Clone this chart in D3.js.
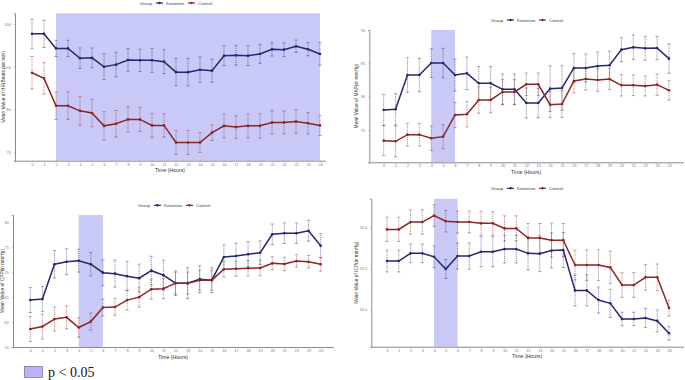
<!DOCTYPE html>
<html><head><meta charset="utf-8">
<script src="https://cdn.jsdelivr.net/npm/d3@7"></script>
<style>html,body{margin:0;padding:0;background:#fff;}svg{display:block;}</style>
</head><body>
<svg id="c" width="685" height="380"></svg>
<script>
const hours = d3.range(0, 25);
const groups = ["Ketamine", "Control"];

const hrKet    = [97.7,97.7,94.3,94.3,92.0,92.1,90.0,90.5,91.6,91.5,91.5,91.2,88.75,88.75,89.3,89.1,92.6,92.7,92.6,93.0,94.1,94.0,94.8,94.1,93.0];
const hrKetErr = [3.4,3.2,1.9,1.9,2.4,2.3,3.0,2.85,2.65,2.6,2.8,2.8,3.2,3.2,3.0,2.7,2.3,2.3,2.3,2.2,1.6,1.6,1.45,1.55,2.65];
const hrCtl    = [88.6,87.3,80.9,80.9,79.7,79.2,76.2,76.7,77.7,77.7,76.3,76.3,72.3,72.3,72.3,74.6,76.2,75.9,76.2,76.2,77.0,77.0,77.2,76.8,76.3];
const hrCtlErr = [3.8,3.7,3.2,3.2,3.4,3.2,3.3,3.1,2.9,2.8,2.8,2.7,2.8,2.8,2.3,1.8,2.8,2.65,2.8,2.85,2.7,2.65,2.7,2.5,2.35];
const hrTicks  = [70, 80, 90, 100];

const mapKet    = [78.0,78.1,83.25,83.25,85.05,85.05,83.25,83.5,82.0,82.0,81.1,81.1,79.05,79.05,81.2,81.3,84.3,84.3,84.6,84.7,87.05,87.4,87.25,87.3,85.7];
const mapKetErr = [2.3,2.35,2.6,2.5,2.15,2.2,2.4,2.45,2.5,2.5,2.3,2.3,2.25,2.2,3.4,3.35,2.15,2.1,2.1,2.1,1.8,1.85,1.8,1.75,2.2];
const mapCtl    = [73.4,73.3,74.3,74.3,73.75,74.0,77.25,77.35,79.5,79.5,80.7,80.7,81.85,81.85,78.8,78.9,82.35,82.65,82.5,82.65,81.7,81.7,81.6,81.8,80.95];
const mapCtlErr = [2.25,2.3,1.7,1.7,1.85,1.8,1.9,1.9,2.0,1.95,1.85,1.85,1.7,1.7,1.95,2.0,1.8,1.65,1.7,1.6,1.6,1.55,1.5,1.6,1.45];
const mapTicks  = [75, 80, 85, 90];

const cppKet    = [64.4,64.6,71.6,72.1,72.3,71.6,69.9,69.7,69.2,68.8,70.3,69.4,67.8,67.8,68.6,68.4,73.05,73.25,73.6,73.9,77.6,77.8,77.8,78.3,75.3];
const cppKetErr = [2.5,2.5,2.75,2.6,2.3,2.35,2.6,2.7,2.9,2.8,2.9,3.0,2.45,3.1,2.7,2.5,2.4,2.55,2.5,2.35,2.05,2.05,2.05,2.1,2.45];
const cppCtl    = [58.6,59.1,60.6,60.95,58.9,60.1,62.9,63.0,64.4,65.0,66.6,66.7,67.8,67.8,68.4,68.4,70.6,70.7,70.8,70.85,71.8,71.65,72.25,72.1,71.6];
const cppCtlErr = [2.5,2.5,2.4,2.3,1.95,1.7,1.7,1.7,2.0,2.0,2.0,2.0,2.2,2.2,2.0,2.0,1.55,1.5,1.55,1.55,1.3,1.35,1.25,1.25,1.4];
const cppTicks  = [55, 60, 65, 70, 75, 80];

const icpKet    = [12.96,12.96,13.43,13.43,13.22,12.47,13.27,13.27,13.53,13.53,13.69,13.69,13.43,13.41,13.61,13.63,11.16,11.16,10.57,10.37,9.41,9.41,9.47,9.29,8.53];
const icpKetErr = [0.67,0.67,0.57,0.57,0.67,0.58,0.8,0.8,0.92,0.92,0.85,0.85,1.02,1.1,1.07,1.07,0.95,0.95,0.8,0.86,0.41,0.41,0.59,0.67,0.41];
const icpCtl    = [14.9,14.9,15.35,15.35,15.75,15.4,15.35,15.35,15.27,15.27,14.96,14.96,14.37,14.37,14.24,14.24,12.71,12.71,12.71,12.57,11.49,11.49,11.96,11.96,10.08];
const icpCtlErr = [0.745,0.745,0.745,0.745,0.66,0.66,0.67,0.67,0.73,0.73,0.77,0.77,0.89,0.89,1.04,1.02,0.92,0.94,0.94,1.0,0.755,0.755,0.78,0.82,0.49];
const icpTicks  = [10.0, 12.5, 15.0];

const sigHR  = [2, 24];
const sigMAP = [4, 6];
const sigCPP = [4, 6];
const sigICP = [4, 6];

const colors = { Ketamine: "#262673", Control: "#8b2525" };
const shadeColor = "#c9c9f8";
const font = "Liberation Sans, Arial, sans-serif";

const svg = d3.select("#c");

function panel(cfg) {
  const x = d3.scaleLinear().domain(cfg.xDom).range(cfg.xRange);
  const y = d3.scaleLinear().domain(cfg.yDom).range(cfg.yRange);
  const g = svg.append("g");

  g.append("rect")
    .attr("x", x(cfg.sig[0])).attr("width", x(cfg.sig[1]) - x(cfg.sig[0]))
    .attr("y", cfg.yRange[1]).attr("height", cfg.yRange[0] - cfg.yRange[1])
    .attr("fill", shadeColor);

  const xa = g.append("g").attr("transform", `translate(0,${cfg.yRange[0]})`)
    .call(d3.axisBottom(x).tickValues(hours).tickSize(1.2).tickPadding(1).tickFormat(d3.format("d")));
  const ya = g.append("g").attr("transform", `translate(${cfg.xRange[0]},0)`)
    .call(d3.axisLeft(y).tickValues(cfg.ticks).tickSize(1.2).tickPadding(3).tickFormat(cfg.fmt));
  [xa, ya].forEach(a => {
    a.select(".domain").attr("stroke", "#8a8a8a").attr("stroke-width", 1);
    a.selectAll(".tick line").attr("stroke", "#9a9a9a").attr("stroke-width", 0.6);
    a.selectAll("text").attr("fill", "#777").attr("font-size", 3.8).attr("font-family", font);
  });

  g.append("text").attr("x", (cfg.xRange[0] + cfg.xRange[1]) / 2).attr("y", cfg.yRange[0] + 11.5)
    .attr("text-anchor", "middle").attr("font-size", 5.2).attr("fill", "#333").attr("font-family", font)
    .text("Time  (Hours)");
  g.append("text")
    .attr("transform", `translate(${cfg.yTitleX},${(cfg.yRange[0] + cfg.yRange[1]) / 2}) rotate(-90)`)
    .attr("text-anchor", "middle").attr("font-size", 4.8).attr("fill", "#333").attr("font-family", font)
    .text(cfg.yTitle);

  cfg.series.forEach(s => {
    const col = colors[s.name];
    const pts = hours.map((h, i) => ({ h, v: s.vals[i], e: s.err[i] }));
    const eb = g.append("g");
    pts.forEach(p => {
      eb.append("line").attr("x1", x(p.h)).attr("x2", x(p.h))
        .attr("y1", y(p.v - p.e)).attr("y2", y(p.v + p.e))
        .attr("stroke", col).attr("stroke-opacity", 0.55).attr("stroke-width", 0.9)
        .attr("stroke-dasharray", "1.2,0.8");
      [p.v - p.e, p.v + p.e].forEach(vv => {
        eb.append("line").attr("x1", x(p.h) - 1.6).attr("x2", x(p.h) + 1.6)
          .attr("y1", y(vv)).attr("y2", y(vv))
          .attr("stroke", col).attr("stroke-opacity", 0.6).attr("stroke-width", 0.7);
      });
    });
    g.append("path").datum(pts)
      .attr("d", d3.line().x(d => x(d.h)).y(d => y(d.v)))
      .attr("fill", "none").attr("stroke", col).attr("stroke-width", 1.5);
    g.selectAll(null).data(pts).enter().append("circle")
      .attr("cx", d => x(d.h)).attr("cy", d => y(d.v)).attr("r", 1.3).attr("fill", col);
  });

  const lg = g.append("g").attr("transform", `translate(${cfg.legend[0]},${cfg.legend[1]})`);
  lg.append("text").attr("x", 0).attr("y", 1.5).attr("font-size", 4.4).attr("fill", "#444")
    .attr("font-family", font).text("Group");
  let lx = 16;
  groups.forEach(name => {
    lg.append("line").attr("x1", lx).attr("x2", lx + 7).attr("y1", 0).attr("y2", 0)
      .attr("stroke", colors[name]).attr("stroke-width", 1.2);
    lg.append("circle").attr("cx", lx + 3.5).attr("cy", 0).attr("r", 1.2).attr("fill", colors[name]);
    lg.append("text").attr("x", lx + 10).attr("y", 1.5).attr("font-size", 4.4).attr("fill", "#444")
      .attr("font-family", font).text(name);
    lx += 10 + (name === "Ketamine" ? 22 : 20);
  });
}

const fmtInt = d3.format("d");
const fmt1 = d3.format(".1f");

panel({
  xDom: [-1.417, 24.417], xRange: [15, 325],
  yDom: [68.05, 102.5], yRange: [160.7, 13.3],
  ticks: hrTicks, fmt: fmtInt, sig: sigHR,
  yTitle: "Mean Value of HR(Beats per min)", yTitleX: 4.5, legend: [140, 3],
  series: [{ name: "Ketamine", vals: hrKet, err: hrKetErr }, { name: "Control", vals: hrCtl, err: hrCtlErr }]
});
panel({
  xDom: [-1.21, 25.18], xRange: [369.3, 683],
  yDom: [70.15, 90], yRange: [162.3, 30],
  ticks: mapTicks, fmt: fmtInt, sig: sigMAP,
  yTitle: "Mean Value of MAP(in mmHg)", yTitleX: 358, legend: [491, 20],
  series: [{ name: "Ketamine", vals: mapKet, err: mapKetErr }, { name: "Control", vals: mapCtl, err: mapCtlErr }]
});
panel({
  xDom: [-1.43, 25.02], xRange: [13, 333],
  yDom: [55, 81.46], yRange: [347, 215],
  ticks: cppTicks, fmt: fmtInt, sig: sigCPP,
  yTitle: "Mean Value of CPP(in mmHg)", yTitleX: 4, legend: [138, 205.3],
  series: [{ name: "Ketamine", vals: cppKet, err: cppKetErr }, { name: "Control", vals: cppCtl, err: cppCtlErr }]
});
panel({
  xDom: [-1.34, 25.19], xRange: [371.3, 683],
  yDom: [7.71, 16.78], yRange: [346.7, 198.7],
  ticks: icpTicks, fmt: fmt1, sig: sigICP,
  yTitle: "Mean Value of ICP(in mmHg)", yTitleX: 357.5, legend: [491, 188.3],
  series: [{ name: "Ketamine", vals: icpKet, err: icpKetErr }, { name: "Control", vals: icpCtl, err: icpCtlErr }]
});

svg.append("rect").attr("x", 24.5).attr("y", 366.5).attr("width", 18).attr("height", 11)
  .attr("fill", "#b9b3f3").attr("stroke", "#7f7aa8").attr("stroke-width", 0.8);
svg.append("text").attr("x", 48).attr("y", 377).attr("font-size", 14)
  .attr("font-family", "Liberation Serif, Times New Roman, serif").attr("fill", "#111").text("p < 0.05");
</script>
</body></html>
